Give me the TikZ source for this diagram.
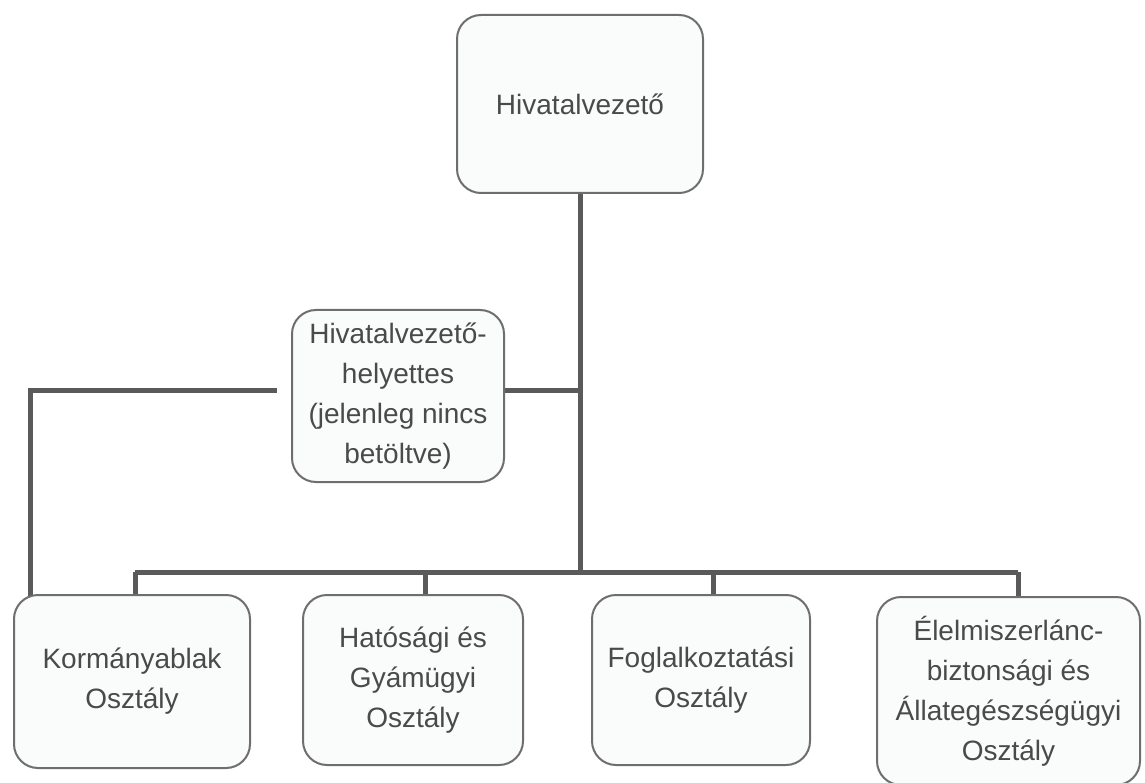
\documentclass[tikz,border=0pt]{standalone}
\usepackage{fontspec}
\setmainfont{Liberation Sans}
\usetikzlibrary{calc}
\definecolor{linegray}{HTML}{5A5A5A}
\definecolor{boxgray}{HTML}{6E6E6E}
\definecolor{textgray}{HTML}{4A4A4A}
\definecolor{boxfill}{HTML}{FAFBFB}
\tikzset{
  orgbox/.style={draw=boxgray, line width=2pt, fill=boxfill, rounded corners=24pt,
    align=center, text=textgray, inner sep=0pt,
    font=\fontsize{28}{40}\selectfont},
  conn/.style={draw=linegray, line width=5pt}
}
\begin{document}
\begin{tikzpicture}[x=1pt,y=-1pt]
\useasboundingbox (0,0) rectangle (1145,783);
% connectors first (behind boxes)
\coordinate (topc) at (580,193);
\coordinate (j1) at (580,390);
\coordinate (j2) at (580,572);
\coordinate (lk) at (30,390);
\coordinate (lb) at (30,598);
\coordinate (bl) at (135,572);
\coordinate (br) at (1018,572);
\coordinate (d1) at (135,598);
\coordinate (d2) at (425,598);
\coordinate (d3) at (713,598);
\coordinate (d4) at (1018,600);
\coordinate (m1) at (504,390);
\coordinate (m0) at (277,390);

\draw[conn] (topc) -- (j2);
\draw[conn] (m1) -- (j1);
\draw[conn] (m0) -- (lk) -- (lb);
\draw[conn] (bl) -- (br);
\draw[conn] (bl) -- (d1);
\draw[conn] ($(d2)+(0,-26)$) -- (d2);
\draw[conn] ($(d3)+(0,-26)$) -- (d3);
\draw[conn] (br) -- (d4);

% boxes
\node[orgbox, minimum width=246pt, minimum height=178pt] (top) at (580,104) {Hivatalvezető};
\node[orgbox, minimum width=212pt, minimum height=172pt] (mid) at (398,396) {Hivatalvezető-\\helyettes\\(jelenleg nincs\\betöltve)};
\node[orgbox, minimum width=236pt, minimum height=173pt] (b1) at (132,681.5) {Kormányablak\\Osztály};
\node[orgbox, minimum width=220pt, minimum height=170pt] (b2) at (413,680) {Hatósági és\\Gyámügyi\\Osztály};
\node[orgbox, minimum width=218pt, minimum height=170pt] (b3) at (701,680) {Foglalkoztatási\\Osztály};
\node[orgbox, minimum width=263pt, minimum height=188pt] (b4) at (1008.5,691) {Élelmiszerlánc-\\biztonsági és\\Állategészségügyi\\Osztály};
\end{tikzpicture}
\end{document}
